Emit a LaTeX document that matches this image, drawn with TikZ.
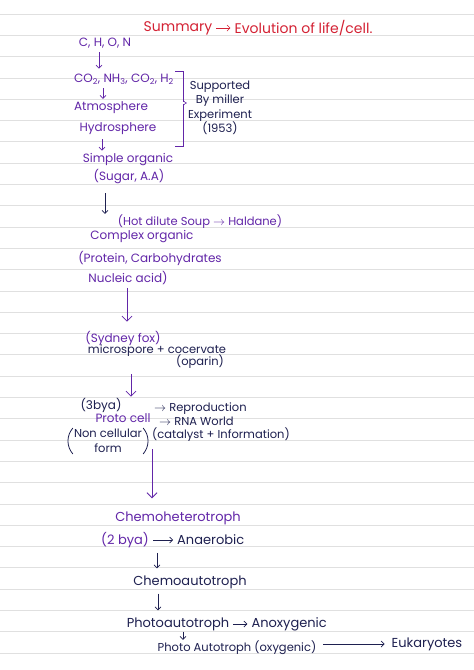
\documentclass[tikz,border=0pt]{standalone}
\usepackage{fontspec}
\setmainfont{Poppins}
\usetikzlibrary{arrows.meta, positioning, calc}
\definecolor{inkpurple}{RGB}{98, 38, 168}
\definecolor{inknavy}{RGB}{30, 32, 80}
\definecolor{inkred}{RGB}{212, 34, 52}
\definecolor{ruleline}{RGB}{224, 224, 224}
\tikzset{
  note/.style={inner sep=1pt, font=\fontsize{12}{14}\selectfont},
  bignote/.style={font=\fontsize{13}{15}\selectfont},
  purplenote/.style={note, text=inkpurple},
  navynote/.style={note, text=inknavy},
  titlenote/.style={note, text=inkred, font=\fontsize{14}{16}\selectfont},
  harrow/.style={-{Straight Barb[length=3pt, width=6pt]}, line width=0.7pt},
  inarrow/.style={harrow, shorten <=3pt, shorten >=3pt},
  longarrow/.style={-{Straight Barb[length=5pt, width=10pt]}, line width=0.8pt, inkpurple},
}

\begin{document}
\begin{tikzpicture}[x=1pt, y=-1pt, node distance=4pt]
  \useasboundingbox (0,0) rectangle (474,670);
  \fill[white] (0,0) rectangle (474,670);
  % ruled page
  \foreach \k in {0,...,30} \draw[ruleline, line width=0.8pt] (0,14+21.3*\k) -- (474,14+21.3*\k);

  % title
  \node[titlenote] (summ) at (178,28) {Summary};
  \node[titlenote, right=20pt of summ] (evol) {Evolution of life/cell.};
  \draw[inarrow, inkred] (summ) -- (evol);

  % early earth
  \node[purplenote] (chon) at (105,43) {C, H, O, N};
  \node[purplenote] (gases) at (124,79) {CO\textsubscript{2}, NH\textsubscript{3}, CO\textsubscript{2}, H\textsubscript{2}};
  \node[purplenote] (atmos) at (111,108) {Atmosphere};
  \node[purplenote] (hydro) at (118,129) {Hydrosphere};
  \draw[harrow, inkpurple, shorten <=3pt, shorten >=4pt] (chon.south -| 99,0) -- (gases.north -| 99,0);
  \draw[harrow, inkpurple, shorten <=3pt, shorten >=2pt] (gases.south -| 103,0) -- (atmos.north -| 103,0);

  % miller bracket
  \draw[inkpurple, line width=0.8pt] (175,71) -- (183,71) -- (183,146) -- (175,146);
  \coordinate (brk) at (177,103);
  \node[navynote, align=center, font=\fontsize{11.5}{14.5}\selectfont] (supp) at (220,108) {Supported\\By miller\\Experiment\\(1953)};
  \draw[-{Implies}, double, double distance=1.4pt, inkpurple, line width=0.5pt] (brk) -- (supp.west |- brk);

  % organic molecules
  \node[purplenote] (simple) at (128,160) {Simple organic};
  \node[purplenote] (sugar) at (129,177) {(Sugar, A.A)};
  \draw[harrow, inkpurple, shorten <=3pt, shorten >=2pt] (hydro.south -| 102,0) -- (simple.north -| 102,0);
  \node[purplenote, font=\fontsize{11.5}{13}\selectfont] (soup) at (200,222) {(Hot dilute Soup $\rightarrow$ Haldane)};
  \node[purplenote] (complex) at (142,237) {Complex organic};
  \node[purplenote] (protein) at (150,258) {(Protein, Carbohydrates};
  \node[purplenote] (nucleic) at (128,278) {Nucleic acid)};
  \draw[harrow, inknavy, shorten <=8pt] (sugar.south -| 105,0) -- (soup.north -| 105,0);

  % protocell
  \node[purplenote] (fox) at (123,338) {(Sydney fox)};
  \node[navynote, font=\fontsize{11.5}{13}\selectfont] (micro) at (157,351) {microspore + cocervate};
  \node[navynote, font=\fontsize{11.5}{13}\selectfont] (oparin) at (200,362) {(oparin)};
  \draw[longarrow, shorten <=2pt, shorten >=8pt] (nucleic.south -| 127,0) -- (fox.north -| 127,0);
  \node[navynote] (bya3) at (101,405) {(3bya)};
  \node[purplenote] (proto) at (123,418) {Proto cell};
  \node[navynote, align=center, font=\fontsize{11.5}{15}\selectfont] (ncf) at (108,441) {Non cellular\\form};
  \draw[inknavy, line width=0.8pt] (ncf.north west) to[bend right=40] (ncf.south west);
  \draw[inknavy, line width=0.8pt] (ncf.north east) to[bend left=40] (ncf.south east);
  \draw[longarrow, shorten <=4pt] (oparin.south -| 131,0) -- (bya3.north -| 131,0);
  \node[navynote, anchor=west, font=\fontsize{11.5}{13}\selectfont] (repro) at (153,409) {$\rightarrow$ Reproduction};
  \node[navynote, anchor=west, font=\fontsize{11.5}{13}\selectfont] (rna) at (158,421) {$\rightarrow$ RNA World};
  \node[navynote, anchor=west, font=\fontsize{11.5}{13}\selectfont] (catal) at (151,435) {(catalyst + Information)};

  % metabolism
  \node[purplenote, bignote] (chemohet) at (178,518) {Chemoheterotroph};
  \draw[longarrow, shorten <=6pt, shorten >=12pt] (catal.south -| 152,0) -- (chemohet.north -| 152,0);
  \node[purplenote, bignote] (bya2) at (125,540) {(2 bya)};
  \node[navynote, bignote, right=26pt of bya2] (anaer) {Anaerobic};
  \draw[inarrow, inknavy] (bya2) -- (anaer);
  \node[navynote, bignote] (chemoauto) at (190,582) {Chemoautotroph};
  \draw[harrow, inknavy, shorten <=4pt, shorten >=6pt] (bya2.south -| 157,0) -- (chemoauto.north -| 157,0);
  \node[navynote, bignote] (photoan) at (178,624) {Photoautotroph};
  \node[navynote, bignote, right=20pt of photoan] (anoxy) {Anoxygenic};
  \draw[inarrow, inknavy] (photoan) -- (anoxy);
  \draw[harrow, inknavy, shorten <=4pt, shorten >=6pt] (chemoauto.south -| 158,0) -- (photoan.north -| 158,0);
  \node[navynote, font=\fontsize{11.5}{13}\selectfont] (photoox) at (237,648) {Photo Autotroph (oxygenic)};
  \draw[harrow, inknavy] (photoan.south -| 183,0) -- (photoox.north -| 183,0);
  \node[navynote, bignote] (eukar) at (427,644) {Eukaryotes};
  \draw[harrow, inknavy, shorten <=6pt, shorten >=6pt] (photoox.east |- eukar) -- (eukar);
\end{tikzpicture}
\end{document}
